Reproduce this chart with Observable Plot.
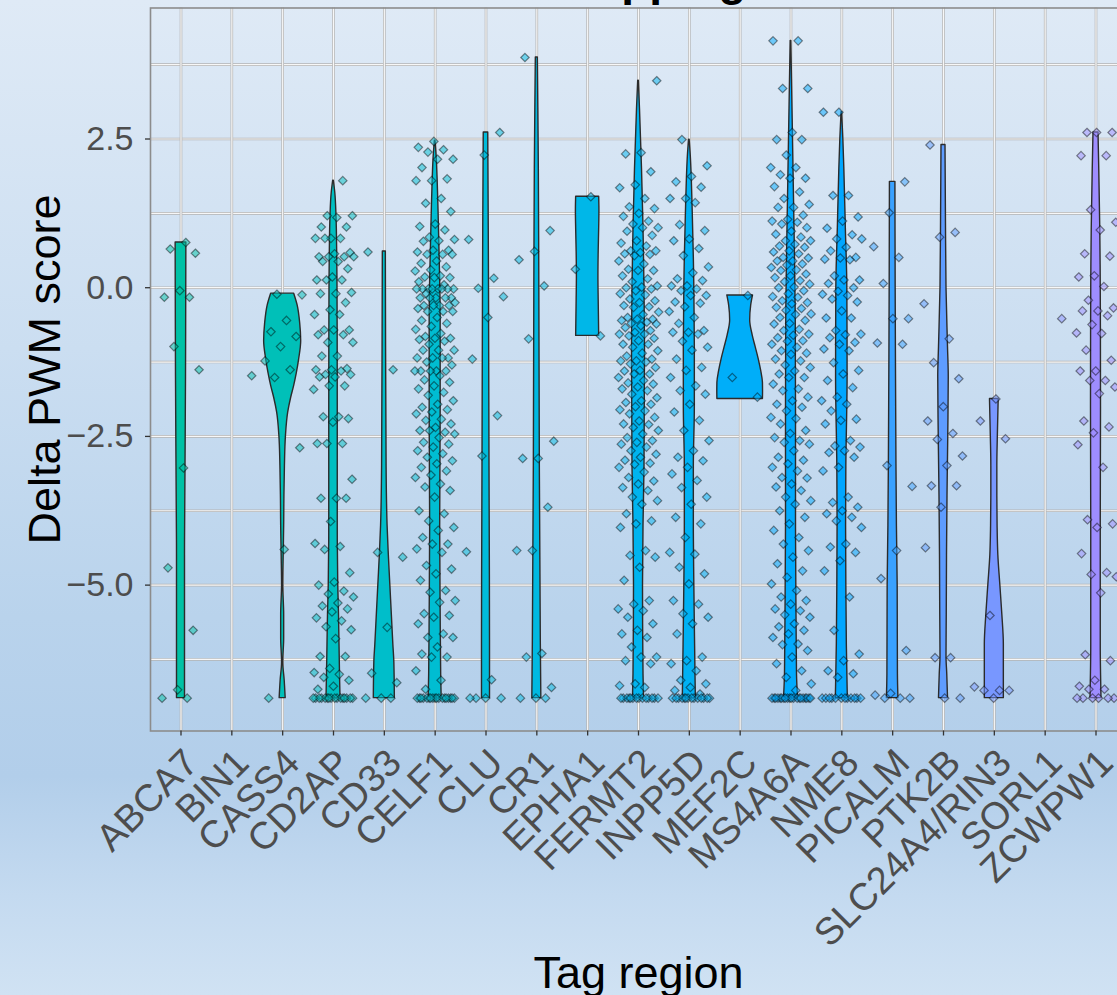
<!DOCTYPE html>
<html><head><meta charset="utf-8">
<script src="https://cdn.jsdelivr.net/npm/d3@7"></script>
<script src="https://cdn.jsdelivr.net/npm/@observablehq/plot@0.6"></script>
<style>
html,body{margin:0;padding:0;overflow:hidden;width:1117px;height:995px;}
body{font-family:"Liberation Sans",Arial,Helvetica,sans-serif;
background:linear-gradient(180deg,#dfeaf6 0%,#cbdef1 35%,#b9d3ec 62%,#b2ceea 78%,#c4daf0 90%,#d0e2f3 100%);}
#wrap{position:relative;width:1117px;height:995px;overflow:hidden;}
#title{position:absolute;top:-44px;left:478px;font-size:46px;font-weight:bold;line-height:1;white-space:nowrap;color:#000;}
#chart{position:absolute;top:0;left:0;width:1146px;height:995px;}
#chart svg{max-width:none !important;width:1146px !important;height:995px !important;}
</style></head><body>
<div id="wrap">
<div id="title">Overlapping</div>
<div id="chart"></div>
</div>
<script>
// ---------- categories ----------
const categories = ["ABCA7","BIN1","CASS4","CD2AP","CD33","CELF1","CLU","CR1","EPHA1","FERMT2","INPP5D","MEF2C","MS4A6A","NME8","PICALM","PTK2B","SLC24A4/RIN3","SORL1","ZCWPW1"];
const yTicks = [-5, -2.5, 0, 2.5];
const yMinorTicks = [-6.25, -3.75, -1.25, 1.25, 3.75];

// ---------- point values (Delta PWM score) ----------
const scoresABCA7 = [0.76,0.65,0.58,-0.05,-0.16,-0.16,-0.99,-1.38,-3.03,-4.71,-5.76,-6.76,-6.9,-6.9];
const scoresBIN1 = [-1.48];
const scoresCASS4 = [-0.11,-0.12,-0.55,-0.74,-0.82,-0.99,-1.23,-1.38,-1.51,-2.69,-4.40,-6.9];
const scoresCD2AP = [1.8,1.21,1.21,1.18,1.02,1.02,0.83,0.83,0.83,0.83,0.59,0.57,0.52,0.52,0.52,0.52,0.44,0.44,0.32,0.18,0.13,0.13,0.13,-0.08,-0.1,-0.1,-0.25,-0.37,-0.45,-0.45,-0.71,-0.71,-0.71,-0.79,-0.79,-0.92,-0.92,-1.15,-1.15,-1.36,-1.38,-1.38,-1.4,-1.46,-1.46,-1.5,-1.5,-1.65,-1.65,-1.71,-2.17,-2.17,-2.2,-2.26,-2.62,-2.62,-2.62,-3.22,-3.54,-3.54,-3.54,-3.93,-4.3,-4.35,-4.4,-4.79,-4.95,-5.0,-5.1,-5.15,-5.2,-5.3,-5.35,-5.4,-5.45,-5.55,-5.6,-5.7,-5.75,-5.9,-6.2,-6.2,-6.4,-6.47,-6.5,-6.55,-6.6,-6.7,-6.75,-6.9,-6.9,-6.9,-6.9,-6.9,-6.9,-6.9,-6.9,-6.9,-6.9,-6.9,-6.9,-6.9,-6.9,-6.9,-6.9];
const scoresCD33 = [0.6,-1.38,-4.45,-4.53,-5.71,-6.48,-6.64,-6.9,-6.9,-6.9];
const scoresCELF1 = [2.46,2.36,2.32,2.28,2.16,2.16,2.02,1.83,1.80,1.80,1.5,1.42,1.28,1.07,1.03,0.97,0.85,0.81,0.79,0.78,0.63,0.63,0.6,0.56,0.56,0.56,0.45,0.41,0.35,0.3,0.28,0.2,0.18,0.17,0.17,0.1,0.05,-0.02,-0.02,-0.02,-0.02,-0.02,-0.02,-0.02,-0.02,-0.1,-0.17,-0.17,-0.17,-0.17,-0.17,-0.25,-0.3,-0.3,-0.3,-0.3,-0.35,-0.4,-0.4,-0.4,-0.5,-0.55,-0.6,-0.65,-0.7,-0.77,-0.82,-0.85,-0.85,-0.87,-0.9,-0.95,-1.05,-1.05,-1.05,-1.18,-1.18,-1.18,-1.18,-1.25,-1.3,-1.4,-1.4,-1.4,-1.4,-1.4,-1.48,-1.55,-1.59,-1.65,-1.7,-1.76,-1.81,-1.9,-1.96,-2.01,-2.05,-2.09,-2.12,-2.21,-2.23,-2.29,-2.35,-2.40,-2.43,-2.40,-2.46,-2.52,-2.6,-2.63,-2.68,-2.74,-2.79,-2.85,-2.91,-2.96,-3.02,-3.08,-3.15,-3.19,-3.30,-3.35,-3.41,-3.52,-3.75,-3.80,-3.92,-4.03,-4.08,-4.2,-4.31,-4.31,-4.39,-4.45,-4.67,-4.73,-4.81,-4.92,-5.09,-5.12,-5.26,-5.29,-5.48,-5.51,-5.54,-5.65,-5.82,-5.88,-5.88,-6.04,-6.16,-6.21,-6.21,-6.44,-6.6,-6.75,-6.9,-6.9,-6.9,-6.9,-6.9,-6.9,-6.9,-6.9,-6.9,-6.9,-6.9,-6.9,-6.9,-6.9,-6.9,-6.9,-6.9,-6.9];
const scoresCLU = [2.61,2.23,0.81,0.16,-0.01,-0.15,-0.5,-1.2,-2.15,-2.83,-4.44,-6.59,-6.9,-6.9,-6.9,-6.9];
const scoresCR1 = [3.87,0.96,0.61,0.47,0.03,-0.86,-2.58,-2.87,-2.87,-3.69,-4.42,-4.42,-6.15,-6.21,-6.72,-6.9,-6.9,-6.9];
const scoresEPHA1 = [1.53,0.31,-0.81];
const scoresFERMT2 = [3.48,2.27,2.25,1.95,1.73,1.68,1.5,1.36,1.33,1.25,1.2,1.12,1.07,1.01,1.01,0.95,0.88,0.79,0.75,0.7,0.62,0.62,0.59,0.57,0.56,0.54,0.45,0.4,0.31,0.29,0.29,0.2,0.15,0.1,0.03,0.01,0.0,-0.02,-0.05,-0.1,-0.12,-0.19,-0.22,-0.25,-0.3,-0.32,-0.33,-0.41,-0.45,-0.5,-0.53,-0.53,-0.55,-0.58,-0.6,-0.61,-0.64,-0.67,-0.72,-0.75,-0.78,-0.78,-0.81,-0.85,-0.89,-0.95,-0.95,-1.0,-1.06,-1.1,-1.15,-1.2,-1.23,-1.23,-1.25,-1.28,-1.34,-1.39,-1.4,-1.45,-1.45,-1.51,-1.56,-1.6,-1.62,-1.67,-1.7,-1.73,-1.79,-1.85,-1.9,-1.93,-1.96,-2.0,-2.05,-2.07,-2.12,-2.18,-2.24,-2.29,-2.3,-2.35,-2.4,-2.46,-2.52,-2.57,-2.6,-2.63,-2.68,-2.74,-2.8,-2.85,-2.9,-2.95,-2.97,-3.02,-3.1,-3.19,-3.25,-3.3,-3.36,-3.41,-3.52,-3.58,-3.64,-3.8,-3.92,-3.97,-4.03,-4.42,-4.5,-4.53,-4.7,-4.92,-5.26,-5.32,-5.4,-5.43,-5.54,-5.65,-5.76,-5.82,-5.88,-6.04,-6.21,-6.21,-6.27,-6.32,-6.66,-6.69,-6.72,-6.9,-6.9,-6.9,-6.9,-6.9,-6.9,-6.9,-6.9,-6.9,-6.9,-6.9,-6.9,-6.9,-6.9];
const scoresINPP5D = [2.49,2.05,1.87,1.78,1.69,1.50,1.50,1.43,1.06,0.96,0.82,0.79,0.66,0.54,0.35,0.25,0.15,0.12,0.03,0.03,-0.02,-0.05,-0.13,-0.13,-0.24,-0.26,-0.32,-0.4,-0.5,-0.6,-0.72,-0.75,-0.75,-0.78,-0.9,-1.0,-1.05,-1.2,-1.34,-1.39,-1.51,-1.65,-1.73,-1.79,-1.96,-2.09,-2.23,-2.40,-2.57,-2.74,-2.85,-2.91,-3.02,-3.13,-3.24,-3.36,-3.52,-3.64,-3.86,-3.97,-4.2,-4.45,-4.48,-4.7,-4.81,-4.98,-5.26,-5.32,-5.48,-5.54,-5.65,-5.82,-6.21,-6.27,-6.32,-6.44,-6.6,-6.66,-6.72,-6.77,-6.83,-6.9,-6.9,-6.9,-6.9,-6.9,-6.9,-6.9,-6.9,-6.9,-6.9,-6.9,-6.9,-6.9,-6.9];
const scoresMEF2C = [-0.13,-1.51,-1.84];
const scoresMS4A6A = [4.15,4.15,3.35,3.35,2.61,2.49,2.49,2.23,2.02,2.02,1.9,1.84,1.84,1.7,1.61,1.5,1.4,1.35,1.35,1.22,1.15,1.12,1.1,1.07,1.01,0.95,0.90,0.85,0.79,0.79,0.73,0.7,0.68,0.62,0.6,0.57,0.51,0.5,0.45,0.45,0.40,0.38,0.34,0.3,0.29,0.23,0.2,0.17,0.12,0.1,0.06,0.01,0.0,-0.05,-0.10,-0.15,-0.16,-0.22,-0.25,-0.27,-0.33,-0.35,-0.38,-0.44,-0.45,-0.5,-0.55,-0.6,-0.61,-0.7,-0.72,-0.78,-0.8,-0.84,-0.89,-0.9,-0.95,-1.0,-1.06,-1.1,-1.12,-1.2,-1.23,-1.3,-1.34,-1.4,-1.45,-1.51,-1.51,-1.62,-1.7,-1.73,-1.84,-1.9,-1.96,-2.01,-2.07,-2.18,-2.2,-2.29,-2.40,-2.45,-2.52,-2.57,-2.6,-2.63,-2.74,-2.85,-2.9,-2.96,-3.02,-3.08,-3.19,-3.2,-3.30,-3.35,-3.41,-3.52,-3.58,-3.64,-3.75,-3.86,-3.97,-4.08,-4.2,-4.31,-4.42,-4.53,-4.64,-4.76,-4.87,-4.98,-5.09,-5.2,-5.26,-5.32,-5.4,-5.43,-5.5,-5.54,-5.65,-5.7,-5.76,-5.82,-5.88,-5.99,-6.0,-6.1,-6.21,-6.32,-6.44,-6.55,-6.66,-6.77,-6.9,-6.9,-6.9,-6.9,-6.9,-6.9,-6.9,-6.9,-6.9,-6.9,-6.9,-6.9,-6.9,-6.9,-6.9,-6.9,-6.9,-6.9,-6.9,-6.9];
const scoresNME8 = [2.95,2.95,1.55,1.55,1.19,1.12,1.0,0.89,0.82,0.82,0.68,0.62,0.51,0.50,0.48,0.47,0.2,0.13,0.13,0.07,0.0,-0.06,-0.11,-0.13,-0.19,-0.24,-0.39,-0.51,-0.51,-0.72,-0.78,-0.79,-0.84,-0.92,-0.95,-1.03,-1.06,-1.26,-1.39,-1.45,-1.56,-1.68,-1.84,-1.9,-1.96,-2.07,-2.21,-2.23,-2.29,-2.57,-2.66,-2.68,-2.74,-2.77,-2.85,-3.02,-3.08,-3.52,-3.61,-3.69,-3.75,-3.8,-3.86,-3.92,-4.03,-4.31,-4.36,-4.45,-4.59,-4.76,-5.2,-5.76,-6.16,-6.27,-6.44,-6.49,-6.55,-6.9,-6.9,-6.9,-6.9,-6.9,-6.9,-6.9,-6.9,-6.9,-6.9,-6.9,-6.9];
const scoresPICALM = [1.78,1.26,0.69,0.51,0.07,-0.52,-0.52,-0.93,-0.95,-2.99,-3.34,-4.42,-4.89,-6.1,-6.82,-6.85,-6.9,-6.9,-6.9];
const scoresPTK2B = [2.4,0.93,0.85,-0.27,-0.86,-1.26,-1.53,-2.0,-2.24,-2.45,-2.55,-2.83,-2.99,-3.33,-3.33,-3.69,-4.37,-6.22,-6.22,-6.9,-6.9];
const scoresSLC24A4 = [-1.87,-2.24,-2.54,-5.51,-6.71,-6.77,-6.77,-6.77,-6.9];
const scoresSORL1 = [-0.52];
const scoresZCWPW1 = [2.61,2.61,2.61,2.22,2.22,1.31,1.10,0.97,0.57,0.53,0.2,0.18,0.02,-0.21,-0.34,-0.39,-0.39,-0.47,-0.62,-0.76,-0.77,-1.05,-1.22,-1.4,-1.4,-1.56,-1.56,-1.67,-1.78,-2.24,-2.34,-2.44,-2.64,-3.02,-3.9,-3.97,-4.03,-4.47,-4.79,-4.82,-4.86,-5.13,-6.17,-6.27,-6.6,-6.7,-6.75,-6.75,-6.9,-6.9,-6.9,-6.9,-6.9,-6.9];

// ---------- violin density profiles: [score, density] ----------
const densityABCA7 = [[0.76,10.7],[0,10.5],[-1.5,10],[-3,9],[-4.5,8],[-6.9,8]];
const densityCASS4 = [[-0.1,23],[-0.3,30],[-0.6,35],[-0.9,37],[-1.2,33],[-1.45,28],[-1.65,23],[-1.85,17],[-2.1,11],[-2.5,6.5],[-3.0,4.5],[-3.5,3.5],[-4.0,3],[-4.5,2],[-5.0,1.2],[-5.5,3],[-5.9,3],[-6.3,1.2],[-6.6,4],[-6.9,6]];
const densityCD2AP = [[1.8,0.6],[1.6,3.5],[1.2,6],[0.5,7.5],[0,8],[-2,8.5],[-4,8.5],[-5,9.5],[-5.5,11],[-6,12],[-6.5,13],[-6.9,14]];
const densityCD33 = [[0.61,3],[-1,3.5],[-2,4],[-3,4.5],[-4,6.5],[-4.5,9],[-5,12],[-5.5,15],[-6,18],[-6.3,20],[-6.9,21]];
const densityCELF1 = [[2.47,0.6],[2.2,3],[1.8,5],[1.2,7],[0.5,9],[-0.5,11],[-2,11],[-4,10],[-5.5,11],[-6.5,12],[-6.9,13]];
const densityCLU = [[2.61,4.5],[1,5.5],[0,6],[-3,7],[-6,8],[-6.9,8]];
const densityCR1 = [[3.87,2],[2,4],[0,5],[-3,6],[-6,8],[-6.9,9]];
const densityEPHA1 = [[1.53,23],[1.3,23.5],[1.0,23],[0.6,22],[0.2,21.5],[-0.2,22],[-0.5,22.5],[-0.81,23]];
const densityFERMT2 = [[3.48,0.6],[3.0,3],[2.5,5],[2.0,7],[1.0,10],[0,12],[-1,13],[-2,12.5],[-3,12],[-4,10],[-5,9],[-6,9.5],[-6.5,10],[-6.9,11]];
const densityINPP5D = [[2.49,0.6],[2.2,3],[1.8,5],[1.2,7],[0.5,9],[0,10],[-1,11],[-2,11],[-3,9],[-4,9],[-5,10],[-6,11.5],[-6.9,13]];
const densityMEF2C = [[-0.13,25.7],[-0.3,22],[-0.55,20],[-0.8,25],[-1.0,31],[-1.2,37],[-1.4,42],[-1.6,45.5],[-1.75,45.7],[-1.87,45.5]];
const densityMS4A6A = [[4.15,0.6],[3.5,2],[2.5,4],[1.5,6],[0.5,8],[-0.5,9.5],[-2,10],[-4,10],[-5.5,11],[-6.5,12],[-6.9,14]];
const densityNME8 = [[2.95,0.6],[2.5,3],[2,5],[1,8],[0,11],[-1.5,11.5],[-3,9],[-4,8.5],[-5,9],[-6,10],[-6.9,12]];
const densityPICALM = [[1.78,5.5],[0,6],[-2,7],[-4,8.5],[-5,10],[-6.5,10.5],[-6.9,11.5]];
const densityPTK2B = [[2.4,4],[1,5],[0,6],[-1,9],[-1.5,10.5],[-2.5,9.5],[-3.5,8],[-4.5,7],[-5.5,6.5],[-6.2,6],[-6.5,7.5],[-6.9,9]];
const densitySLC24A4 = [[-1.87,8.7],[-2.5,7],[-3.0,6],[-3.5,6],[-4.0,6.5],[-4.5,8],[-5.0,12],[-5.5,16],[-6.0,19],[-6.9,19]];
const densityZCWPW1 = [[2.61,5],[2.0,6.5],[1,8.5],[0,9.5],[-2,10],[-4,9.5],[-6,9.5],[-6.9,11]];

const scoreLists = [scoresABCA7,scoresBIN1,scoresCASS4,scoresCD2AP,scoresCD33,scoresCELF1,scoresCLU,scoresCR1,scoresEPHA1,scoresFERMT2,scoresINPP5D,scoresMEF2C,scoresMS4A6A,scoresNME8,scoresPICALM,scoresPTK2B,scoresSLC24A4,scoresSORL1,scoresZCWPW1];
const densityLists = [densityABCA7,null,densityCASS4,densityCD2AP,densityCD33,densityCELF1,densityCLU,densityCR1,densityEPHA1,densityFERMT2,densityINPP5D,densityMEF2C,densityMS4A6A,densityNME8,densityPICALM,densityPTK2B,densitySLC24A4,null,densityZCWPW1];

// ---------- colours: ggplot-style hue (polar LUV, c=100, l=65) ----------
function hueColor(h, c = 100, l = 65) {
  const hr = h * Math.PI / 180, U = c * Math.cos(hr), V = c * Math.sin(hr);
  const Y = Math.pow((l + 16) / 116, 3);
  const un = 0.1978398, vn = 0.4683363;
  const up = U / (13 * l) + un, vp = V / (13 * l) + vn;
  const X = Y * 9 * up / (4 * vp), Z = Y * (12 - 3 * up - 20 * vp) / (4 * vp);
  const lin = [3.2404542*X - 1.5371385*Y - 0.4985314*Z, -0.9692660*X + 1.8760108*Y + 0.0415560*Z, 0.0556434*X - 0.2040259*Y + 1.0572252*Z];
  const g = lin.map(v => { v = Math.max(0, Math.min(1, v)); return Math.round(255 * (v <= 0.0031308 ? 12.92 * v : 1.055 * Math.pow(v, 1/2.4) - 0.055)); });
  return d3.rgb(g[0], g[1], g[2]).formatHex();
}
const colorRange = categories.map((c, i) => hueColor(178 + i * 5.1));

// ---------- tables ----------
const points = [];
scoreLists.forEach((list, i) => list.forEach((v, k) => points.push({cat: categories[i], i, v, k})));
const maxDensity = d3.max(densityLists.filter(Boolean).flat(), d => d[1]);
const violins = [];
densityLists.forEach((prof, i) => { if (prof) prof.forEach(([v, d]) => violins.push({cat: categories[i], i, v, w: 0.45 * d / maxDensity})); });

const allV = points.map(d => d.v);
const vMin = d3.min(allV), vMax = d3.max(allV), pad = 0.05 * (vMax - vMin);
const n = categories.length;
const jitter = (k, i) => (((k + 1) * 0.6180339887 + i * 0.37) % 1 - 0.5) * 0.8;

const plot = Plot.plot({
  width: 1146, height: 995,
  marginLeft: 150, marginRight: 20, marginTop: 7.5, marginBottom: 264.5,
  style: {background: "transparent", maxWidth: "none", fontFamily: "'Liberation Sans', Arial, Helvetica, sans-serif"},
  x: {domain: [-0.6, n - 1 + 0.6], axis: null},
  y: {domain: [vMin - pad, vMax + pad], axis: null},
  color: {domain: categories, range: colorRange},
  marks: [
    Plot.ruleY(yTicks.concat(yMinorTicks), {stroke: "#b3b3b3", strokeWidth: 2.6}),
    Plot.ruleY(yTicks.concat(yMinorTicks), {stroke: "#f7f7f7", strokeWidth: 1.2}),
    Plot.ruleX(d3.range(n), {stroke: "#b3b3b3", strokeWidth: 2.6}),
    Plot.ruleX(d3.range(n), {stroke: "#f7f7f7", strokeWidth: 1.2}),
    Plot.areaX(violins, {y: "v", x1: d => d.i - d.w, x2: d => d.i + d.w, z: "cat", fill: "cat", stroke: "#2b2b2b", strokeWidth: 1.4, curve: "monotone-y"}),
    Plot.dot(points, {x: d => d.i + jitter(d.k, d.i), y: "v", symbol: "diamond2", r: 3.8, fill: "cat", fillOpacity: 0.5, stroke: "#000", strokeOpacity: 0.45, strokeWidth: 1.2}),
    Plot.frame({stroke: "#8c8c8c", strokeWidth: 1.6}),
    Plot.axisY(yTicks, {tickSize: 5, tickPadding: 12, tickFormat: d3.format(".1f"), fontSize: 34, fill: "#4d4d4d", stroke: "#333", strokeWidth: 1.3, label: null}),
    Plot.axisX(d3.range(n), {tickSize: 5, tickFormat: () => "", stroke: "#333", strokeWidth: 1.3, label: null}),
    Plot.text(categories, {x: (d, i) => i, frameAnchor: "bottom", dx: 0, dy: 15, rotate: -45, textAnchor: "end", lineAnchor: "top", fontSize: 38, fill: "#4d4d4d"}),
    Plot.text(["Delta PWM score"], {frameAnchor: "left", dx: -105, rotate: -90, textAnchor: "middle", lineAnchor: "middle", fontSize: 45, fill: "#000"}),
    Plot.text(["Tag region"], {frameAnchor: "bottom", dy: 243, textAnchor: "middle", lineAnchor: "middle", fontSize: 45, fill: "#000"})
  ]
});
document.getElementById("chart").appendChild(plot);
</script>
</body></html>
